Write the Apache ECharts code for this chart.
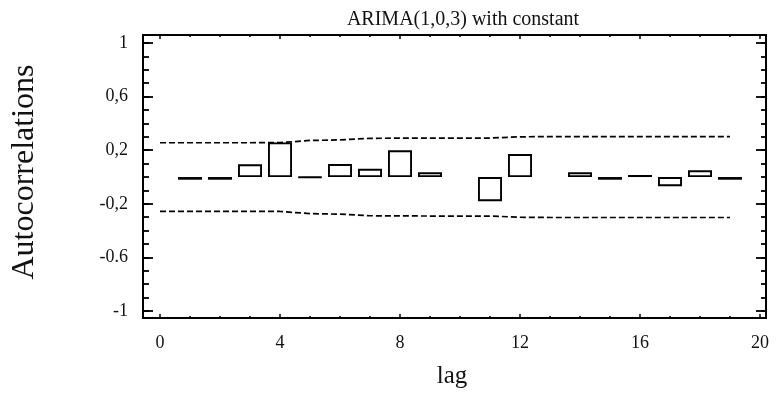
<!DOCTYPE html>
<html>
<head>
<meta charset="utf-8">
<script src="https://cdn.jsdelivr.net/npm/echarts@6/dist/echarts.min.js"></script>
<style>html,body{margin:0;padding:0;background:#fff}#c{width:776px;height:394px}</style>
</head>
<body>
<div id="c"></div>
<script>
// ---- data ----
var lags = [1, 2, 3, 4, 5, 6, 7, 8, 9, 11, 12, 14, 15, 16, 17, 18, 19];
var acf = [-0.02, -0.02, 0.095, 0.258, -0.003, 0.097, 0.062, 0.2, 0.035, -0.18, 0.172, 0.035, -0.02, 0.015, -0.068, 0.05, -0.02];
var limitLags = [0, 1, 2, 3, 4, 5, 6, 7, 8, 9, 10, 11, 12, 13, 14, 15, 16, 17, 18, 19];
var upperLimit = [0.256, 0.256, 0.256, 0.256, 0.257, 0.273, 0.277, 0.289, 0.29, 0.291, 0.291, 0.291, 0.3, 0.302, 0.302, 0.302, 0.302, 0.302, 0.302, 0.302];
var lowerLimit = [-0.256, -0.256, -0.256, -0.256, -0.257, -0.273, -0.277, -0.289, -0.29, -0.291, -0.291, -0.291, -0.3, -0.302, -0.302, -0.302, -0.302, -0.302, -0.302, -0.302];
var xTickValues = [0, 4, 8, 12, 16, 20];
var xTickLabels = ["0", "4", "8", "12", "16", "20"];
var xMinorTicks = [0, 1, 2, 3, 4, 5, 6, 7, 8, 9, 10, 11, 12, 13, 14, 15, 16, 17, 18, 19, 20];
var yTickValues = [-1, -0.6, -0.2, 0.2, 0.6, 1];
var yTickLabels = ["-1", "-0.6", "-0,2", "0,2", "0,6", "1"];
var yMinorTicks = [-1, -0.9, -0.8, -0.7, -0.6, -0.5, -0.4, -0.3, -0.2, -0.1, 0, 0.1, 0.2, 0.3, 0.4, 0.5, 0.6, 0.7, 0.8, 0.9, 1];
var titleText = "ARIMA(1,0,3) with constant";
var xName = "lag";
var yName = "Autocorrelations";

// ---- chart ----
var FONT = "Liberation Serif";
var XMIN = -0.567, XMAX = 20.2, YMIN = -1.052, YMAX = 1.06;

function pair(xs, ys) { return xs.map(function (x, i) { return [x, ys[i]]; }); }
function labelFor(v) {
  for (var i = 0; i < yTickValues.length; i++) if (Math.abs(yTickValues[i] - v) < 1e-6) return yTickLabels[i];
  return "";
}
function xLabelFor(v) {
  for (var i = 0; i < xTickValues.length; i++) if (Math.abs(xTickValues[i] - v) < 1e-6) return xTickLabels[i];
  return "";
}
function xAx(pos, ticks, len, labels) {
  return {
    type: 'value', position: pos, min: XMIN, max: XMAX,
    axisLine: { show: false, onZero: false }, splitLine: { show: false },
    axisTick: { show: true, inside: true, length: len, customValues: ticks, lineStyle: { color: '#000', width: 1.5 } },
    axisLabel: labels ? { show: true, customValues: xTickValues, formatter: xLabelFor, margin: 16, color: '#111', fontFamily: FONT, fontSize: 18 } : { show: false }
  };
}
function yAx(pos, ticks, len, labels) {
  return {
    type: 'value', position: pos, min: YMIN, max: YMAX,
    axisLine: { show: false, onZero: false }, splitLine: { show: false },
    axisTick: { show: true, inside: true, length: len, customValues: ticks, lineStyle: { color: '#000', width: 1.8 } },
    axisLabel: labels ? { show: true, customValues: yTickValues, formatter: labelFor, margin: 15, color: '#111', fontFamily: FONT, fontSize: 18 } : { show: false }
  };
}

var chart = echarts.init(document.getElementById('c'), null, { renderer: 'canvas' });
chart.setOption({
  animation: false,
  backgroundColor: '#fff',
  title: {
    text: titleText, left: 458, top: 5, textAlign: 'center',
    textStyle: { fontFamily: FONT, fontWeight: 'normal', fontSize: 20, color: '#111' }
  },
  grid: { left: 143, right: 10, top: 35, bottom: 76, show: true, borderColor: '#000', borderWidth: 2, backgroundColor: 'transparent' },
  xAxis: [
    xAx('bottom', xTickValues, 4, true),
    xAx('bottom', xMinorTicks, 2, false),
    xAx('top', xTickValues, 4, false),
    xAx('top', xMinorTicks, 2, false)
  ],
  yAxis: [
    yAx('left', yTickValues, 10, true),
    yAx('left', yMinorTicks, 6, false),
    yAx('right', yTickValues, 10, false),
    yAx('right', yMinorTicks, 5, false)
  ],
  graphic: [
    { type: 'text', x: 25, y: 172, rotation: Math.PI / 2, style: { text: yName, font: '32px "Liberation Serif"', fill: '#111', align: 'center', verticalAlign: 'middle' } },
    { type: 'text', x: 452, y: 376, style: { text: xName, font: '25px "Liberation Serif"', fill: '#111', align: 'center', verticalAlign: 'middle' } }
  ],
  series: [
    {
      type: 'line', xAxisIndex: 0, yAxisIndex: 0, data: pair(limitLags, upperLimit),
      symbol: 'none', lineStyle: { color: '#000', width: 1.7, type: [6, 3] }, z: 2
    },
    {
      type: 'line', xAxisIndex: 0, yAxisIndex: 0, data: pair(limitLags, lowerLimit),
      symbol: 'none', lineStyle: { color: '#000', width: 1.7, type: [6, 3] }, z: 2
    },
    {
      type: 'bar', xAxisIndex: 0, yAxisIndex: 0, data: pair(lags, acf), barWidth: 24,
      itemStyle: { color: '#fff', borderColor: '#000', borderWidth: 1.9 }, z: 3
    }
  ]
});
</script>
</body>
</html>
